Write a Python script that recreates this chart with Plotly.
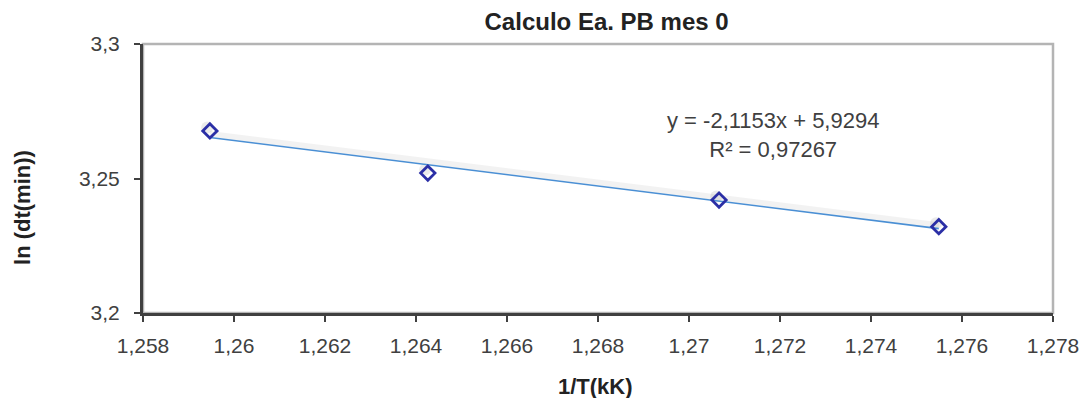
import plotly.graph_objects as go

# Measured points: 1/T (1/kK) vs ln(dt in minutes)
inv_T = [1.25947, 1.26426, 1.27066, 1.27549]
ln_dt = [3.2677, 3.2520, 3.2420, 3.2321]

# Linear trendline reported on the chart
slope = -2.1153
intercept = 5.9294
r_squared = "0,97267"

x_tick_vals = [1.258, 1.260, 1.262, 1.264, 1.266, 1.268, 1.270, 1.272, 1.274, 1.276, 1.278]
x_tick_text = ["1,258", "1,26", "1,262", "1,264", "1,266", "1,268", "1,27", "1,272", "1,274", "1,276", "1,278"]
y_tick_vals = [3.20, 3.25, 3.30]
y_tick_text = ["3,2", "3,25", "3,3"]

trend_x = [min(inv_T), max(inv_T)]
trend_y = [slope * v + intercept for v in trend_x]

font_family = "Liberation Sans, Arial, sans-serif"

fig = go.Figure()

# soft drop shadow behind the trendline and markers
shadow_dy = 0.0013
fig.add_trace(go.Scatter(
    x=trend_x, y=[v + shadow_dy for v in trend_y], mode="lines",
    line=dict(color="rgba(0,0,0,0.05)", width=6), hoverinfo="skip", showlegend=False))
fig.add_trace(go.Scatter(
    x=[v - 0.00006 for v in inv_T], y=[v + shadow_dy for v in ln_dt], mode="markers",
    marker=dict(symbol="circle", size=12, color="rgba(0,0,0,0.08)"),
    hoverinfo="skip", showlegend=False))

fig.add_trace(go.Scatter(
    x=trend_x, y=trend_y, mode="lines",
    line=dict(color="#4a8fd4", width=1.6), showlegend=False))

fig.add_trace(go.Scatter(
    x=inv_T, y=ln_dt, mode="markers",
    marker=dict(symbol="diamond-open", size=11, color="#2b2fa6",
                line=dict(width=2.8, color="#2b2fa6")),
    showlegend=False))

# light frame around the plotting area
fig.add_shape(type="rect", xref="paper", yref="paper", x0=0, y0=0, x1=1, y1=1,
              line=dict(color="#b4b4b4", width=2.5), layer="below")

# trendline equation label
fig.add_annotation(
    x=1.27185, y=3.2662, xref="x", yref="y",
    text=f"y = {str(slope).replace('.', ',')}x + {str(intercept).replace('.', ',')}<br>R² = {r_squared}",
    showarrow=False, align="center",
    font=dict(family=font_family, size=22, color="#404040"))

# axis titles
fig.add_annotation(
    x=-0.133, y=0.394, xref="paper", yref="paper",
    text="<b>ln (dt(min))</b>", textangle=-90, showarrow=False,
    xanchor="center", yanchor="middle",
    font=dict(family=font_family, size=22, color="#222222"))
fig.add_annotation(
    x=0.497, y=-0.275, xref="paper", yref="paper",
    text="<b>1/T(kK)</b>", showarrow=False,
    xanchor="center", yanchor="middle",
    font=dict(family=font_family, size=22, color="#222222"))

fig.update_layout(
    width=1091, height=398,
    margin=dict(l=143, r=38, t=44, b=85),
    paper_bgcolor="white", plot_bgcolor="white",
    title=dict(text="<b>Calculo Ea. PB mes 0</b>", x=0.556, xanchor="center",
               y=0.945, yanchor="middle",
               font=dict(family=font_family, size=24, color="#222222")),
    xaxis=dict(
        range=[1.258, 1.278], tickvals=x_tick_vals, ticktext=x_tick_text,
        showgrid=False, zeroline=False, automargin=False,
        showline=True, linecolor="#404040", linewidth=3,
        ticks="outside", ticklen=6, tickwidth=2, tickcolor="#404040",
        ticklabelstandoff=6,
        tickfont=dict(family=font_family, size=21, color="#404040")),
    yaxis=dict(
        range=[3.2, 3.3], tickvals=y_tick_vals, ticktext=y_tick_text,
        showgrid=False, zeroline=False, automargin=False,
        showline=True, linecolor="#404040", linewidth=3,
        ticks="outside", ticklen=6, tickwidth=2, tickcolor="#404040",
        ticklabelstandoff=10,
        tickfont=dict(family=font_family, size=21, color="#404040")),
)

fig.write_html("out.html")
